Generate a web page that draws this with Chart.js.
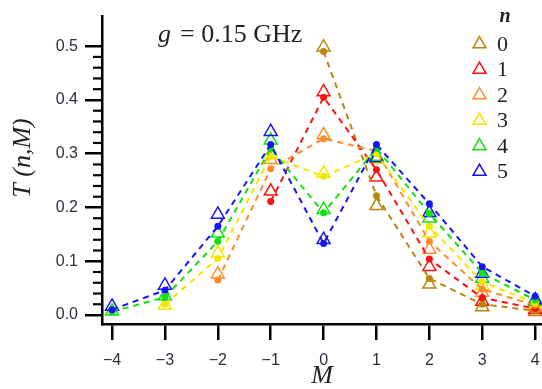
<!DOCTYPE html>
<html>
<head>
<meta charset="utf-8">
<script src="https://cdn.jsdelivr.net/npm/chart.js@4/dist/chart.umd.min.js"></script>
<style>
  html, body { margin: 0; padding: 0; background: #fff; }
  #wrap { width: 542px; height: 389px; position: relative; }
</style>
</head>
<body>
<div id="wrap"><canvas id="c" width="542" height="389"></canvas></div>
<script>
// ---- data ----
const M_VALUES = [-4, -3, -2, -1, 0, 1, 2, 3, 4];
const N_LABELS = ['0', '1', '2', '3', '4', '5'];
const Y_TICKS = [0, 0.1, 0.2, 0.3, 0.4, 0.5];
const X_TICKS = [-4, -3, -2, -1, 0, 1, 2, 3, 4];

// measured (triangles)
const exp_n0 = [null, null, null, null, 0.498, 0.203, 0.057, 0.015, 0.006];
const exp_n1 = [null, null, null, 0.230, 0.415, 0.256, 0.090, 0.025, 0.010];
const exp_n2 = [null, null, 0.076, 0.289, 0.335, 0.290, 0.122, 0.042, 0.015];
const exp_n3 = [null, 0.018, 0.115, 0.300, 0.263, 0.290, 0.152, 0.055, 0.020];
const exp_n4 = [0.007, 0.035, 0.152, 0.325, 0.196, 0.295, 0.180, 0.068, 0.025];
const exp_n5 = [0.016, 0.055, 0.187, 0.341, 0.140, 0.292, 0.190, 0.077, 0.028];

// theory (filled circles + dashed lines)
const th_n0 = [null, null, null, null, 0.490, 0.222, 0.068, 0.020, 0.008];
const th_n1 = [null, null, null, 0.211, 0.405, 0.270, 0.104, 0.032, 0.012];
const th_n2 = [null, null, 0.065, 0.272, 0.328, 0.305, 0.137, 0.048, 0.018];
const th_n3 = [null, 0.020, 0.105, 0.295, 0.258, 0.300, 0.165, 0.062, 0.022];
const th_n4 = [0.006, 0.033, 0.137, 0.310, 0.190, 0.310, 0.189, 0.078, 0.028];
const th_n5 = [0.010, 0.046, 0.165, 0.317, 0.133, 0.317, 0.207, 0.090, 0.035];

const EXP = [exp_n0, exp_n1, exp_n2, exp_n3, exp_n4, exp_n5];
const TH = [th_n0, th_n1, th_n2, th_n3, th_n4, th_n5];
const COLORS = ['#B8860B', '#FF1010', '#FF8C28', '#F2E600', '#10E010', '#1515F5'];

function toPts(arr) {
  const out = [];
  arr.forEach((v, i) => { if (v !== null) out.push({ x: M_VALUES[i], y: v }); });
  return out;
}

const datasets = [];
N_LABELS.forEach((lab, n) => {
  datasets.push({
    label: 'theory n=' + lab,
    data: toPts(TH[n]),
    showLine: true,
    borderColor: COLORS[n],
    backgroundColor: COLORS[n],
    borderDash: [6, 5],
    borderWidth: 2,
    pointStyle: 'circle',
    pointRadius: 3.5,
    pointBorderWidth: 0,
    pointBackgroundColor: COLORS[n],
    order: 10 - n,
    clip: false
  });
  datasets.push({
    label: lab,
    data: toPts(EXP[n]),
    showLine: false,
    borderColor: COLORS[n],
    backgroundColor: 'rgba(255,255,255,0)',
    pointStyle: 'triangle',
    pointRadius: 7.5,
    pointBorderWidth: 1.5,
    pointBorderColor: COLORS[n],
    pointBackgroundColor: 'rgba(255,255,255,0)',
    order: 20 - n,
    clip: false
  });
});

const TEXT = '#222';
const TICK_TEXT = '#2a3040';

const extras = {
  id: 'extras',
  afterDraw(chart) {
    const ctx = chart.ctx;
    const ys = chart.scales.y;
    const xs = chart.scales.x;
    ctx.save();
    // minor y ticks
    ctx.strokeStyle = '#000';
    ctx.lineWidth = 2.2;
    for (let k = 0; k <= 25; k++) {
      if (k % 5 === 0) continue;
      const py = ys.getPixelForValue(k * 0.02);
      ctx.beginPath();
      ctx.moveTo(xs.left - 9, py);
      ctx.lineTo(xs.left, py);
      ctx.stroke();
    }
    // y axis title
    ctx.save();
    ctx.translate(23, 158);
    ctx.rotate(-Math.PI / 2);
    ctx.fillStyle = TEXT;
    ctx.textAlign = 'center';
    ctx.textBaseline = 'middle';
    ctx.font = 'italic 26px "Liberation Serif", serif';
    ctx.fillText('T (n,M)', 0, 0);
    ctx.restore();
    // annotation
    ctx.fillStyle = TEXT;
    ctx.textBaseline = 'alphabetic';
    ctx.textAlign = 'left';
    ctx.font = 'italic 26px "Liberation Serif", serif';
    ctx.fillText('g', 158, 42);
    ctx.font = '26px "Liberation Serif", serif';
    ctx.fillText('= 0.15 GHz', 180, 42);
    // legend
    ctx.font = 'italic bold 20px "Liberation Serif", serif';
    ctx.textAlign = 'center';
    ctx.textBaseline = 'middle';
    ctx.fillText('n', 505, 17);
    N_LABELS.forEach((lab, n) => {
      const cy = 44 + n * 25.5;
      ctx.strokeStyle = COLORS[n];
      ctx.fillStyle = 'rgba(255,255,255,0)';
      ctx.lineWidth = 1.5;
      Chart.helpers.drawPoint(ctx, { pointStyle: 'triangle', radius: 7.5, borderWidth: 1.5 }, 479.5, cy);
      ctx.fillStyle = TEXT;
      ctx.font = '22px "Liberation Serif", serif';
      ctx.textAlign = 'left';
      ctx.fillText(lab, 497, cy + 1);
    });
    ctx.restore();
  }
};

new Chart(document.getElementById('c'), {
  type: 'scatter',
  data: { datasets },
  options: {
    responsive: false,
    animation: false,
    devicePixelRatio: 1,
    layout: { autoPadding: false, padding: { top: 15, right: 0, left: 0, bottom: 0 } },
    plugins: {
      legend: { display: false },
      tooltip: { enabled: false }
    },
    scales: {
      x: {
        type: 'linear',
        min: -4.19,
        max: 4.13,
        afterBuildTicks(scale) { scale.ticks = X_TICKS.map(v => ({ value: v })); },
        afterFit(scale) { scale.height = 65; scale.paddingLeft = 0; scale.paddingRight = 0; },
        border: { display: true, color: '#000', width: 2.5 },
        grid: { display: true, drawOnChartArea: false, drawTicks: true, tickLength: 16, color: '#000', lineWidth: 2.5 },
        ticks: {
          padding: 11,
          color: TICK_TEXT,
          font: { family: '"Liberation Sans", Arial, sans-serif', size: 16 },
          callback: v => (v < 0 ? '\u2212' + Math.abs(v) : String(v))
        },
        title: {
          display: true,
          text: 'M',
          color: TEXT,
          font: { family: '"Liberation Serif", serif', size: 26, style: 'italic', lineHeight: 1 },
          padding: { top: 0, bottom: 0 }
        }
      },
      y: {
        type: 'linear',
        min: -0.0167,
        max: 0.555,
        afterBuildTicks(scale) { scale.ticks = Y_TICKS.map(v => ({ value: v })); },
        afterFit(scale) { scale.width = 102; },
        border: { display: true, color: '#000', width: 2.5 },
        grid: { display: true, drawOnChartArea: false, drawTicks: true, tickLength: 17, color: '#000', lineWidth: 2.5 },
        ticks: {
          padding: 7,
          color: TICK_TEXT,
          font: { family: '"Liberation Sans", Arial, sans-serif', size: 16 },
          callback: v => v.toFixed(1)
        },
        title: { display: false }
      }
    }
  },
  plugins: [extras]
});
</script>
</body>
</html>
